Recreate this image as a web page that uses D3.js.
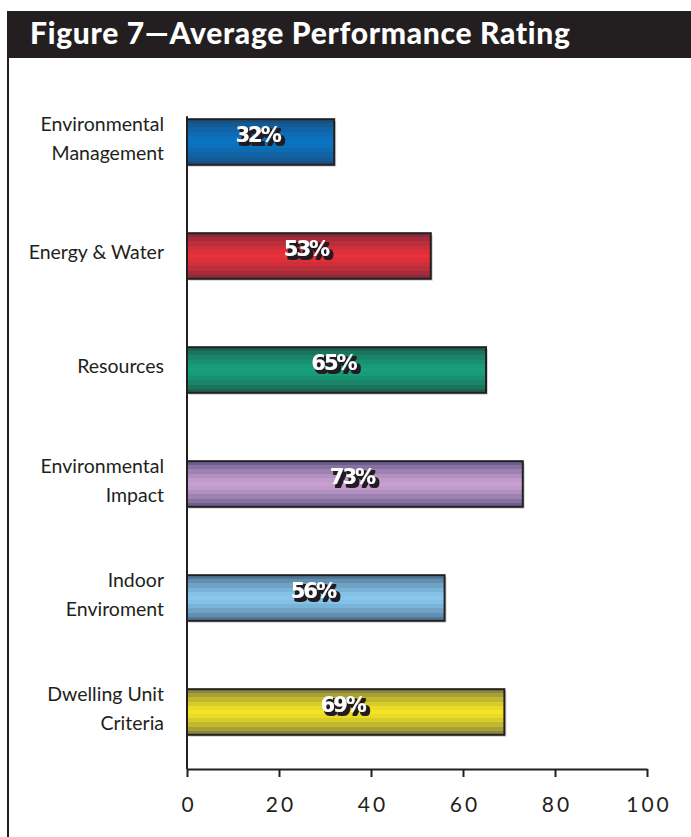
<!DOCTYPE html>
<html><head><meta charset="utf-8">
<script src="https://cdn.jsdelivr.net/npm/d3@7"></script>
<style>body{margin:0;background:#fff}svg{display:block}</style>
</head><body>
<script>
const categories = [["Environmental","Management"],["Energy & Water"],["Resources"],["Environmental","Impact"],["Indoor","Enviroment"],["Dwelling Unit","Criteria"]];
const values = [32,53,65,73,56,69];
const baseColors = ["#0a74c2","#e8303a","#18a07c","#c8a0d0","#88c8ee","#f2e424"];
const darkColors = ["#1a4a78","#7a2a3a","#1a5a4a","#5e5484","#4a6a88","#7a7640"];
const ticks = [0,20,40,60,80,100];

const W=691,H=837;
const svg=d3.select("body").append("svg").attr("width",W).attr("height",H);
svg.append("rect").attr("x",7).attr("y",11).attr("width",W-7).attr("height",47).attr("fill","#231f20");
svg.append("text").attr("x",30).attr("y",44).attr("fill","#fff").attr("font-family","Lato, 'Open Sans', sans-serif").attr("font-weight","900").attr("font-size",30).attr("letter-spacing",0.7).text("Figure 7\u2014Average Performance Rating");
svg.append("line").attr("x1",8).attr("x2",8).attr("y1",11).attr("y2",H).attr("stroke","#231f20").attr("stroke-width",2);

const x=d3.scaleLinear().domain([0,100]).range([187,647]);
const y=d3.scaleBand().domain(d3.range(values.length)).range([85,769]).paddingInner(0.6).paddingOuter(0.3);

const defs=svg.append("defs");
const flt=defs.append("filter").attr("id","sh").attr("x","-20%").attr("y","-20%").attr("width","150%").attr("height","150%");
flt.append("feMorphology").attr("in","SourceAlpha").attr("operator","dilate").attr("radius",0.8).attr("result","d");
flt.append("feOffset").attr("in","d").attr("dx",2.5).attr("dy",3).attr("result","o");
flt.append("feFlood").attr("flood-color","#231f20");
flt.append("feComposite").attr("in2","o").attr("operator","in").attr("result","s");
const fm=flt.append("feMerge"); fm.append("feMergeNode").attr("in","s"); fm.append("feMergeNode").attr("in","SourceGraphic");

baseColors.forEach((c,i)=>{
  const g=defs.append("linearGradient").attr("id","g"+i).attr("x1",0).attr("x2",0).attr("y1",0).attr("y2",1);
  const n=11;
  for(let k=0;k<n;k++){
    const t0=k/n, t1=(k+1)/n;
    const mid=(t0+t1)/2;
    const d=Math.abs(mid-0.5)*2;
    const col=d3.interpolateRgb(c,darkColors[i])(Math.pow(d,1.5));
    g.append("stop").attr("offset",t0).attr("stop-color",col);
    g.append("stop").attr("offset",t1).attr("stop-color",col);
  }
});

const bars=svg.append("g");
values.forEach((v,i)=>{
  bars.append("rect").attr("x",x(0)+2).attr("y",y(i)+2).attr("width",x(v)-x(0)).attr("height",y.bandwidth()).attr("fill","#d4d4d4");
  bars.append("rect").attr("x",x(0)).attr("y",y(i)).attr("width",x(v)-x(0)).attr("height",y.bandwidth()).attr("fill",`url(#g${i})`).attr("stroke","#231f20").attr("stroke-width",2);
  const tx=(x(0)+x(v))/2-3, ty=y(i)+y.bandwidth()/2;
  bars.append("text").attr("x",tx).attr("y",ty).attr("text-anchor","middle").attr("font-family","'DejaVu Sans', sans-serif").attr("font-weight","bold").attr("font-size",21).attr("letter-spacing",-2).attr("fill","#fff").attr("filter","url(#sh)").text(v+"%");
});

categories.forEach((lines,i)=>{
  const cy=y(i)+y.bandwidth()/2;
  const t=svg.append("text").attr("text-anchor","end").attr("font-family","Lato, sans-serif").attr("font-size",19.5).attr("fill","#231f20");
  lines.forEach((l,j)=>{
    const off=(j-(lines.length-1)/2)*29+3;
    t.append("tspan").attr("x",164).attr("y",cy+off).text(l);
  });
});

svg.append("line").attr("x1",x(0)).attr("x2",x(0)).attr("y1",y(0)-3).attr("y2",769).attr("stroke","#231f20").attr("stroke-width",2);
const ax=svg.append("g").attr("transform","translate(0,769)").call(d3.axisBottom(x).tickValues(ticks).tickSize(8).tickPadding(20).tickSizeOuter(0));
ax.select(".domain").attr("stroke","#231f20").attr("stroke-width",2);
ax.selectAll(".tick line").attr("stroke","#231f20").attr("stroke-width",2);
ax.selectAll(".tick text").attr("font-family","Lato, sans-serif").attr("font-size",21).attr("letter-spacing",3).attr("fill","#231f20").attr("dx",1.5);
</script>
</body></html>
